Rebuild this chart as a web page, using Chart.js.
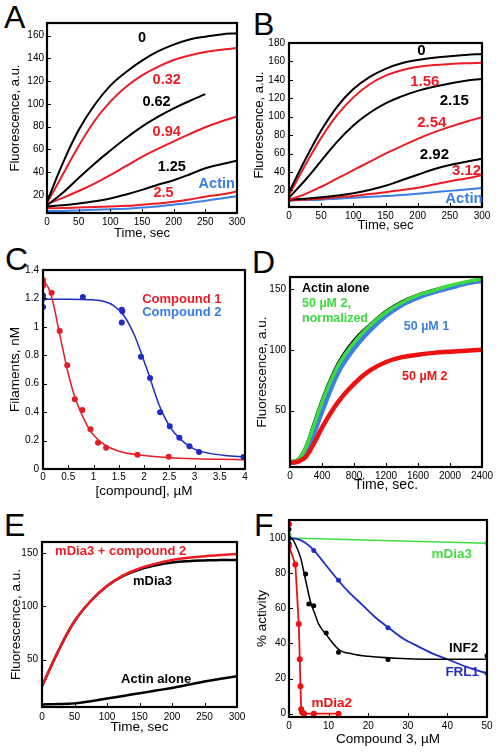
<!DOCTYPE html>
<html><head><meta charset="utf-8">
<script src="https://cdn.jsdelivr.net/npm/chart.js@4"></script>
<style>
html,body{margin:0;padding:0;background:#fff}
body{width:501px;height:752px;position:relative;overflow:hidden;font-family:"Liberation Sans",Arial,sans-serif}
.lt{position:absolute;font-size:32px;line-height:32px;color:#000;font-family:"Liberation Sans",Arial,sans-serif}
canvas{position:absolute}
</style></head><body>
<div class="lt" style="left:4px;top:1px">A</div>
<div class="lt" style="left:253px;top:8px">B</div>
<div class="lt" style="left:5px;top:243px">C</div>
<div class="lt" style="left:252px;top:246px">D</div>
<div class="lt" style="left:4px;top:509px">E</div>
<div class="lt" style="left:254px;top:509px">F</div>
<script>
// ---------- Panel A ----------
const tA = [0,25,50,75,100,125,150,175,200,225,250,275,300];
const A_0    = [14,48,77,99,116,128,138,146,152,156.5,159,161,162];
const A_032  = [13,38,63,85,102,115,125,132.5,138.5,142.5,145.5,147.5,149];
const A_062  = [11,22,35,47.5,59,70,80,88.5,96,102.5,108.5,null,null];
const A_094  = [12,17.5,23.5,30,37.5,45.5,53.5,60.5,67,73.5,79.5,84.5,89];
const A_125  = [10,11,12.5,14.5,17,20.5,24.5,29,33,38,43.5,47,50];
const A_25   = [8.5,8.5,9,9.5,10,10.5,11.5,12.5,14,16,18.5,20.5,23];
const A_actin= [6,6,6.5,7,7.5,8,9,10,11.5,13,15,17,19];
const A_xticks = [0,50,100,150,200,250,300];
const A_yticks = [20,40,60,80,100,120,140,160];

// ---------- Panel B ----------
const tB = [0,25,50,75,100,125,150,175,200,225,250,275,300];
const B_0    = [18,53,85,111,130,143,152,158,161.5,164,165.5,167,168];
const B_156  = [15,47,77,102,121,135,144.5,150.5,154,156,157.2,158,158.5];
const B_215  = [12,31,52,73,90.5,104,114.5,122,128,132.5,136,139,141];
const B_254  = [10,16,24,33,42,51,60,68,76,83,89,94.5,99.5];
const B_292  = [10,11,12.5,14.5,17,20.5,25,31,37,43,47.5,51,54.5];
const B_312  = [9,10,11,12.5,14,16,18,20.5,23,26.5,30,33,36.5];
const B_actin= [9,9.5,10,11,12,13,14,15,16.5,18,19.5,21,22.5];
const B_xticks = [0,50,100,150,200,250,300];
const B_yticks = [20,40,60,80,100,120,140,160,180];

// ---------- Panel C ----------
const C1_x = [0,0,0,0.17,0.33,0.48,0.63,0.78,0.94,1.09,1.25,1.87,2.49];
const C1_y = [1.33,1.31,1.29,1.24,0.97,0.73,0.49,0.415,0.28,0.185,0.15,0.10,0.087];
const C2_x = [0,0,0,0.79,1.56,1.57,1.56,1.94,2.12,2.32,2.51,2.70,2.90,3.09,3.97];
const C2_y = [1.22,1.20,1.14,1.21,1.12,1.11,1.03,0.79,0.64,0.40,0.30,0.22,0.16,0.12,0.084];
const C1fit_x = [0,0.1,0.2,0.3,0.4,0.5,0.6,0.7,0.8,0.9,1.0,1.2,1.5,2.0,2.5,3.0,3.5,4.0];
const C1fit_y = [1.32,1.28,1.17,1.00,0.83,0.67,0.54,0.44,0.36,0.29,0.24,0.175,0.125,0.095,0.08,0.072,0.068,0.065];
const C2fit_x = [0,0.5,1.0,1.2,1.4,1.6,1.8,1.9,2.0,2.1,2.2,2.3,2.4,2.5,2.6,2.8,3.0,3.3,3.6,4.0];
const C2fit_y = [1.195,1.195,1.19,1.18,1.15,1.08,0.95,0.86,0.76,0.66,0.55,0.45,0.37,0.305,0.255,0.185,0.14,0.11,0.095,0.085];
const C_xticks = [0,0.5,1,1.5,2,2.5,3,3.5,4];
const C_yticks = [0,0.2,0.4,0.6,0.8,1,1.2,1.4];

// ---------- Panel D ----------
const tD = [0,100,200,300,400,600,800,1000,1200,1400,1600,1800,2000,2200,2400];
const D_actin = [8,10,21,40,59,89,108,121,132,140,145.5,149.5,153,156,158];
const D_norm  = [8,9.5,20,38,57,87,106,120,131,139,145,149,153,156,158.5];
const D_1     = [7,8,15,31,49,81,101,116,128,137,143,147.5,151,154.5,157];
const D_2     = [7,8,12,23,36,57,72,83,90,94,96,97.5,98.5,99.3,100];
const D_xticks = [0,400,800,1200,1600,2000,2400];
const D_yticks = [50,100,150];

// ---------- Panel E ----------
const tE = [0,25,50,75,100,125,150,175,200,225,250,275,300];
const E_comp  = [25,58,86,105,119,129,135.5,140,143.5,145.5,147,148,149];
const E_mdia3 = [25,58,86,105,119,128.5,134.5,138.5,141,142.3,143,143.5,143.5];
const E_actin = [8,8.3,9,11,13.5,16,18.5,21,23.5,26.5,29.5,32,34.5];
const E_xticks = [0,50,100,150,200,250,300];
const E_yticks = [50,100,150];

// ---------- Panel F ----------
const F_mdia3_x = [0,50];
const F_mdia3_y = [100,97];
const F_mdia3pt_x = [0,0,50];
const F_mdia3pt_y = [102,100,97];
const F_frl1fit_x = [0,2,4,6.25,9,12.4,15,18.5,22,25,29,32.7,36,40,45,50];
const F_frl1fit_y = [100,99.5,97.5,93.2,85.5,76,69.5,62,54.5,49.2,42.5,38.2,34.5,31,26.5,23];
const F_frl1_x = [0,6.25,12.5,25,50];
const F_frl1_y = [100,93,76,49,23];
const F_inf2fit_x = [0,1,1.6,2.9,4.2,5.4,6.5,7.5,9.4,12.6,16,20,30,40,50];
const F_inf2fit_y = [100,99,96.5,89,76,64,57,51,45,36.5,34,32.7,31.3,31,31];
const F_inf2_x = [0,0,0,4.2,5,6.25,9.4,12.5,25,50];
const F_inf2_y = [105,100,97,79.5,62.5,61.5,46,35,30.8,33];
const F_mdia2_x = [0,0,1.6,2.47,2.72,2.9,3.07,3.3,3.8,6.25,12.5];
const F_mdia2_y = [108,95.5,85,51,31,15.6,2.5,0.8,0,0,0];
const F_xticks = [0,10,20,30,40,50];
const F_yticks = [0,20,40,60,80,100];

// ---------- helpers ----------
const FAM = "'Liberation Sans', Arial, Helvetica, sans-serif";
const RED = '#ec1c24', BLK = '#000000', LBLUE = '#3a7fe6';

function pts(xs, ys){ return xs.map((x,i)=>({x:x, y:ys[i]})).filter(p=>p.y!==null); }
function curve(xs, ys, color, w, mono){
  return {data:pts(xs,ys), showLine:true, borderColor:color, borderWidth:w, pointRadius:0,
          tension:0.4, cubicInterpolationMode: mono ? 'monotone' : 'default', fill:false};
}
function dots(xs, ys, color, r){
  return {data:pts(xs,ys), showLine:false, pointRadius:r, pointBackgroundColor:color,
          pointBorderWidth:0, borderColor:color};
}

const framePlugin = {
  id:'frame',
  afterDatasetsDraw(chart, args, opts){
    const {ctx, chartArea:a, scales} = chart;
    const x = scales.x, y = scales.y;
    ctx.save();
    ctx.strokeStyle = '#000'; ctx.lineWidth = 1;
    x.ticks.forEach(t=>{ const p = Math.round(x.getPixelForValue(t.value))+0.5;
      ctx.beginPath(); ctx.moveTo(p,a.bottom); ctx.lineTo(p,a.bottom-4); ctx.stroke(); });
    y.ticks.forEach(t=>{ const p = Math.round(y.getPixelForValue(t.value))+0.5;
      ctx.beginPath(); ctx.moveTo(a.left,p); ctx.lineTo(a.left+4,p); ctx.stroke(); });
    ctx.lineWidth = 2.2;
    ctx.strokeRect(a.left, a.top, a.right-a.left, a.bottom-a.top);
    (opts.labels||[]).forEach(l=>{
      ctx.font = 'bold ' + (l.size||13) + 'px ' + FAM;
      ctx.fillStyle = l.color; ctx.textAlign = l.align||'center'; ctx.textBaseline = 'middle';
      ctx.fillText(l.text, x.getPixelForValue(l.x), y.getPixelForValue(l.y));
    });
    ctx.restore();
  }
};

function panel(p){
  const c = document.createElement('canvas');
  c.width = p.rect.w; c.height = p.rect.h;
  c.style.left = p.rect.l+'px'; c.style.top = p.rect.t+'px';
  c.style.width = p.rect.w+'px'; c.style.height = p.rect.h+'px';
  document.body.appendChild(c);
  const axis = (s, horiz) => ({
    type:'linear', min:s.min, max:s.max,
    afterFit: sc => { if(horiz) sc.height = p.rect.t+p.rect.h-p.area.B; else sc.width = p.area.L-p.rect.l; },
    afterBuildTicks: sc => { sc.ticks = s.ticks.map(v=>({value:v})); },
    grid:{display:false, drawTicks:false}, border:{display:false},
    ticks:{padding:s.tpad, color:'#000', font:{family:FAM, size:s.tsize||10}, maxRotation:0, autoSkip:false,
           callback:v=>String(v)},
    title:{display:true, text:s.title, color:'#000', font:{family:FAM, size:s.titleSize||13},
           padding: horiz ? {top:0,bottom:s.titlePad} : {top:s.titlePad,bottom:0}}
  });
  return new Chart(c, {
    type:'scatter',
    data:{datasets:p.datasets},
    options:{
      responsive:false, animation:false, devicePixelRatio:1,
      layout:{padding:{left:0,bottom:0,top:p.area.T-p.rect.t,right:p.rect.l+p.rect.w-p.area.R}},
      plugins:{legend:{display:false}, tooltip:{enabled:false}, frame:{labels:p.labels}},
      scales:{x:axis(p.x,true), y:axis(p.y,false)}
    },
    plugins:[framePlugin]
  });
}

// ---------- A ----------
panel({
  rect:{l:0,t:0,w:250,h:242}, area:{L:47,T:23,R:237,B:213},
  x:{min:0,max:300,ticks:A_xticks,tpad:3,title:'Time, sec',titlePad:1,tsize:10},
  y:{min:4.2,max:171,ticks:A_yticks,tpad:3,title:'Fluorescence, a.u.',titlePad:8,tsize:10},
  datasets:[
    curve(tA,A_0,BLK,2), curve(tA,A_032,RED,2), curve(tA,A_062,BLK,2), curve(tA,A_094,RED,2),
    curve(tA,A_125,BLK,2), curve(tA,A_25,RED,2), curve(tA,A_actin,LBLUE,2)
  ],
  labels:[
    {text:'0',x:150,y:157.5,color:BLK,size:14.5},
    {text:'0.32',x:189,y:121,color:RED,size:14.5},
    {text:'0.62',x:173,y:102,color:BLK,size:14.5},
    {text:'0.94',x:189,y:75.5,color:RED,size:14.5},
    {text:'1.25',x:197,y:45,color:BLK,size:14.5},
    {text:'2.5',x:184,y:22,color:RED,size:14.5},
    {text:'Actin',x:268,y:29.5,color:LBLUE,size:14.5}
  ]
});

// ---------- B ----------
panel({
  rect:{l:250,t:0,w:251,h:242}, area:{L:289,T:43,R:482,B:207},
  x:{min:0,max:300,ticks:B_xticks,tpad:3,title:'Time, sec',titlePad:9,tsize:10},
  y:{min:2,max:180,ticks:B_yticks,tpad:4,title:'Fluorescence, a.u.',titlePad:2,tsize:10},
  datasets:[
    curve(tB,B_0,BLK,2), curve(tB,B_156,RED,2), curve(tB,B_215,BLK,2), curve(tB,B_254,RED,2),
    curve(tB,B_292,BLK,2), curve(tB,B_312,RED,2), curve(tB,B_actin,LBLUE,2)
  ],
  labels:[
    {text:'0',x:206,y:171,color:BLK,size:15},
    {text:'1.56',x:211,y:137.7,color:RED,size:15},
    {text:'2.15',x:257,y:117.7,color:BLK,size:15},
    {text:'2.54',x:222,y:93.5,color:RED,size:15},
    {text:'2.92',x:226,y:58.8,color:BLK,size:15},
    {text:'3.12',x:276,y:41.7,color:RED,size:15},
    {text:'Actin',x:272,y:11,color:LBLUE,size:15}
  ]
});

// ---------- C ----------
const CRED = '#e41e26', CBLUE = '#1c2cc4';
panel({
  rect:{l:0,t:242,w:250,h:258}, area:{L:43,T:270,R:245,B:469},
  x:{min:0,max:4,ticks:C_xticks,tpad:2,title:'[compound], \u00b5M',titlePad:1,tsize:10,titleSize:13.5},
  y:{min:0,max:1.4,ticks:C_yticks,tpad:4,title:'Filaments, nM',titlePad:7,tsize:10,titleSize:13.5},
  datasets:[
    dots(C1_x,C1_y,CRED,3), dots(C2_x,C2_y,CBLUE,3),
    curve(C1fit_x,C1fit_y,CRED,1.5,true), curve(C2fit_x,C2fit_y,CBLUE,1.5,true)
  ],
  labels:[
    {text:'Compound 1',x:2.75,y:1.195,color:CRED,size:13},
    {text:'Compound 2',x:2.75,y:1.103,color:'#3b7be0',size:13}
  ]
});

// ---------- D ----------
const DGREEN = '#3ddc3d', DBLUE = '#3b80e2', DRED = '#ee1111';
panel({
  rect:{l:250,t:242,w:251,h:258}, area:{L:290,T:277,R:482,B:467},
  x:{min:0,max:2400,ticks:D_xticks,tpad:3,title:'Time, sec.',titlePad:6,tsize:10,titleSize:14},
  y:{min:3.5,max:160,ticks:D_yticks,tpad:4,title:'Fluorescence, a.u.',titlePad:4,tsize:10,titleSize:13.5},
  datasets:[
    curve(tD,D_2,DRED,4.5,true), curve(tD,D_norm,DGREEN,3.5,true), curve(tD,D_1,DBLUE,4.5,true), curve(tD,D_actin,BLK,2.5,true)
  ],
  labels:[
    {text:'Actin alone',x:150,y:150.6,color:BLK,size:12.5,align:'left'},
    {text:'50 \u00b5M 2,',x:150,y:138.2,color:DGREEN,size:12.5,align:'left'},
    {text:'normalized',x:150,y:125.8,color:DGREEN,size:12.5,align:'left'},
    {text:'50 \u00b5M 1',x:1706,y:119.5,color:DBLUE,size:12.5},
    {text:'50 \u00b5M 2',x:1685,y:77.7,color:DRED,size:12.5}
  ]
});

// ---------- E ----------
panel({
  rect:{l:0,t:500,w:250,h:252}, area:{L:42,T:542,R:237,B:707},
  x:{min:0,max:300,ticks:E_xticks,tpad:4,title:'Time, sec',titlePad:17,tsize:10,titleSize:13.5},
  y:{min:5.6,max:160.3,ticks:E_yticks,tpad:4,title:'Fluorescence, a.u.',titlePad:8,tsize:10,titleSize:13.5},
  datasets:[
    curve(tE,E_comp,RED,2.5), curve(tE,E_mdia3,BLK,2.5), curve(tE,E_actin,BLK,2.5)
  ],
  labels:[
    {text:'mDia3 + compound 2',x:121,y:151,color:RED,size:13},
    {text:'mDia3',x:170,y:123.4,color:BLK,size:13},
    {text:'Actin alone',x:175.6,y:31.1,color:BLK,size:13}
  ]
});

// ---------- F ----------
const FGREEN = '#44dd44', FBLUE = '#1f2fc2', FRED = '#ee1111';
panel({
  rect:{l:250,t:500,w:251,h:252}, area:{L:289,T:520,R:487,B:717},
  x:{min:0,max:50,ticks:F_xticks,tpad:3,title:'Compound 3, \u00b5M',titlePad:5,tsize:10,titleSize:13.5},
  y:{min:-1.9,max:110.3,ticks:F_yticks,tpad:3,title:'% activity',titlePad:4,tsize:10,titleSize:13.5},
  datasets:[
    Object.assign(dots(F_mdia2_x,F_mdia2_y,FRED,3),{showLine:true,borderWidth:1.8,borderColor:FRED}),
    dots(F_inf2_x,F_inf2_y,BLK,2.5),
    dots(F_frl1_x,F_frl1_y,FBLUE,2.5),
    dots(F_mdia3pt_x,F_mdia3pt_y,FGREEN,2.5),
    curve(F_inf2fit_x,F_inf2fit_y,BLK,1.5,true),
    curve(F_frl1fit_x,F_frl1fit_y,FBLUE,1.8,true),
    curve(F_mdia3_x,F_mdia3_y,FGREEN,1.5,true)
  ],
  labels:[
    {text:'mDia3',x:41.1,y:90.7,color:FGREEN,size:13.5},
    {text:'INF2',x:44.1,y:37.1,color:BLK,size:13.5},
    {text:'FRL1',x:43.75,y:23.8,color:FBLUE,size:13.5},
    {text:'mDia2',x:10.8,y:5.7,color:FRED,size:13.5}
  ]
});
</script>
</body></html>
